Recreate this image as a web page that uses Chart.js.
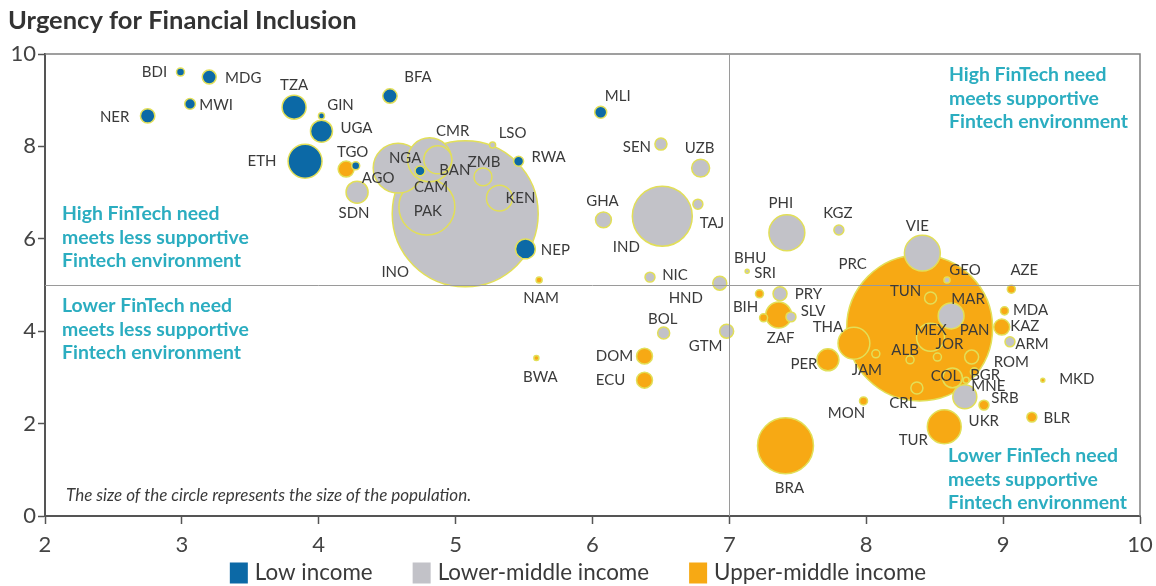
<!DOCTYPE html>
<html>
<head>
<meta charset="utf-8">
<script src="https://cdn.jsdelivr.net/npm/chart.js@4.4.1/dist/chart.umd.min.js"></script>
<style>
html,body{margin:0;padding:0;background:#ffffff;}
#wrap{width:1156px;height:586px;position:relative;}
</style>
</head>
<body>
<div id="wrap"><canvas id="c" width="1156" height="586"></canvas></div>
<script>
// ---------- DATA ----------
// x = FinTech environment score, y = FinTech need (urgency), pop = relative population size
const lowCodes = ['BDI','MDG','MWI','NER','TZA','GIN','UGA','ETH','BFA','TGO','CAM','RWA','MLI','NEP'];
const lowEnv   = [2.99,3.20,3.06,2.75,3.82,4.02,4.02,3.90,4.52,4.27,4.74,5.46,6.06,5.51];
const lowNeed  = [9.61,9.50,8.92,8.66,8.85,8.66,8.33,7.68,9.09,7.58,7.47,7.68,8.74,5.78];
const lowPop   = [2.8,8.5,5,9,25,1.6,21,50,9,2.8,4.3,4.3,6.3,17];

const lmCodes = ['INO','NGA','CMR','BAN','PAK','ZMB','KEN','LSO','SDN','SEN','UZB','TAJ','GHA','IND','NIC','HND','BOL','GTM','PHI','KGZ','VIE','GEO','SRI','SLV','MAR','ARM','UKR','BHU'];
const lmEnv   = [5.07,4.58,4.81,4.87,4.79,5.20,5.32,5.27,4.28,6.50,6.79,6.77,6.08,6.51,6.42,6.93,6.52,6.98,7.42,7.80,8.41,8.59,7.37,7.45,8.62,9.05,8.72,7.13];
const lmNeed  = [6.54,7.53,7.71,7.71,6.69,7.34,6.88,8.03,7.01,8.05,7.53,6.75,6.41,6.49,5.17,5.04,3.96,4.00,6.13,6.19,5.69,5.11,4.81,4.31,4.33,3.77,2.58,5.30];
const lmPop   = [925,108,84,34,136,14,29,1.6,21,6.3,14,4.3,11,156,4.3,8.5,6.3,8.5,56,4.3,56,1.6,8.5,4.3,29,4.3,25,0.7];

const umCodes = ['PRC','AGO','NAM','BWA','DOM','ECU','PRY','BIH','ZAF','THA','PER','JAM','MON','CRL','TUR','BRA','TUN','MEX','ALB','JOR','PAN','ROM','COL','BGR','MNE','SRB','MDA','KAZ','AZE','BLR','MKD'];
const umEnv   = [8.39,4.20,5.61,5.59,6.38,6.38,7.22,7.25,7.36,7.91,7.72,8.07,7.98,8.37,8.57,7.41,8.47,8.47,8.32,8.52,8.77,8.79,8.63,8.73,8.76,8.86,9.01,8.99,9.06,9.21,9.29];
const umNeed  = [4.07,7.51,5.11,3.42,3.46,2.94,4.81,4.29,4.35,3.74,3.38,3.51,2.49,2.77,1.93,1.52,4.72,3.87,3.38,3.44,3.44,3.12,2.99,2.94,2.73,2.40,4.44,4.09,4.91,2.14,2.94];
const umPop   = [925,11,1.6,1.1,11,11,2.8,2.8,29,44,21,2.8,2.8,6.3,50,136,6.3,34,2.8,2.8,8.5,2.8,17,1.6,1.6,4.3,2.8,11,2.8,4.3,0.7];

const groupLabels = ['Low income','Lower-middle income','Upper-middle income'];
const xTicks = [2,3,4,5,6,7,8,9,10];
const yTicks = [0,2,4,6,8,10];

// ---------- STYLE / LAYOUT ----------
const BLUE='#0c69a6', GRAY='#c2c2c8', ORANGE='#f7a914', RING='#e2df58', TEAL='#2badc0', TXT='#3a3a3a';
const RADIUS_SCALE = 2.4;

// label placement relative to the bubble centre (pixels)
const labelOffset = {
 BDI:[-26,0], MDG:[34,1], MWI:[26,1], NER:[-33,1], TZA:[0,-22], GIN:[19,-11], UGA:[35,-3], ETH:[-43,0],
 BFA:[28,-19], TGO:[-3,-14], CAM:[11,16], RWA:[30,-4], MLI:[17,-16], NEP:[30,1],
 INO:[-70,58], NGA:[7,-10], CMR:[23,-29], BAN:[17,10], PAK:[1,4], ZMB:[1,-15], KEN:[21,0], LSO:[20,-12],
 SDN:[-3,21], SEN:[-24,3], UZB:[-1,-20], TAJ:[14,19], GHA:[-1,-19], IND:[-36,31], NIC:[25,-2], HND:[-34,15],
 BOL:[-1,-14], GTM:[-21,15], PHI:[-6,-30], KGZ:[-1,-17], VIE:[-5,-27], GEO:[18,-10], SRI:[-15,-21], SLV:[22,-6],
 MAR:[17,-17], ARM:[22,2], UKR:[19,24], BHU:[3,-13],
 PRC:[-67,-64], AGO:[32,9], NAM:[2,18], BWA:[4,19], DOM:[-30,0], ECU:[-34,0], PRY:[49,0], BIH:[-18,-11],
 ZAF:[2,23], THA:[-26,-16], PER:[-24,4], JAM:[-9,16], MON:[-17,12], CRL:[-14,15], TUR:[-31,13], BRA:[4,42],
 TUN:[-25,-7], MEX:[0,-7], ALB:[-5,-10], JOR:[12,-13], PAN:[3,-27], ROM:[37,-10], COL:[-7,-2], BGR:[19,-5],
 MNE:[18,-4], SRB:[21,-7], MDA:[26,-1], KAZ:[23,-1], AZE:[13,-19], BLR:[25,1], MKD:[34,-1]
};

function buildPoints(codes, env, need, pop){
  return codes.map((c,i)=>({x:env[i], y:need[i], r:RADIUS_SCALE*Math.sqrt(pop[i]), code:c}))
              .sort((a,b)=>b.r-a.r);
}

const framePlugin = {
  id:'frame',
  afterDatasetsDraw(chart){
    const {ctx, chartArea:a, scales:{x,y}} = chart;
    ctx.save();
    ctx.strokeStyle='#808080'; ctx.lineWidth=1.5;
    ctx.beginPath(); ctx.moveTo(a.left,a.top); ctx.lineTo(a.right,a.top); ctx.lineTo(a.right,a.bottom); ctx.stroke();
    ctx.strokeStyle='#9a9a9a'; ctx.lineWidth=1;
    const px = Math.round(x.getPixelForValue(7))+0.5, py = Math.round(y.getPixelForValue(5))+0.5;
    ctx.beginPath(); ctx.moveTo(px,a.top); ctx.lineTo(px,a.bottom); ctx.moveTo(a.left,py); ctx.lineTo(a.right,py); ctx.stroke();
    ctx.restore();
  }
};

const labelPlugin = {
  id:'countryLabels',
  afterDatasetsDraw(chart){
    const ctx = chart.ctx; ctx.save();
    ctx.font='15px Lato'; ctx.fillStyle=TXT; ctx.textAlign='center'; ctx.textBaseline='middle';
    chart.data.datasets.forEach((ds,di)=>{
      chart.getDatasetMeta(di).data.forEach((el,i)=>{
        const code = ds.data[i].code; const o = labelOffset[code]||[0,0];
        ctx.fillText(code, el.x+o[0], el.y+o[1]);
      });
    });
    ctx.restore();
  }
};

const quadrantNotes = [
  {lines:['High FinTech need','meets less supportive','Fintech environment'], x:62, y:214},
  {lines:['Lower FinTech need','meets less supportive','Fintech environment'], x:62, y:306},
  {lines:['High FinTech need','meets supportive','Fintech environment'], x:949, y:75},
  {lines:['Lower FinTech need','meets supportive','Fintech environment'], x:948, y:456}
];

const annotPlugin = {
  id:'annotations',
  afterDraw(chart){
    const ctx = chart.ctx; ctx.save();
    ctx.textBaseline='middle'; ctx.textAlign='left';
    ctx.font='bold 19.4px Lato'; ctx.fillStyle=TEAL;
    quadrantNotes.forEach(q=>q.lines.forEach((l,i)=>ctx.fillText(l,q.x,q.y+i*23.3)));
    ctx.font='italic 17px Lato'; ctx.fillStyle=TXT;
    ctx.fillText('The size of the circle represents the size of the population.',66,496);
    // legend
    ctx.font='22.4px Lato';
    const items = chart.data.datasets.map(d=>({label:d.label,color:d.backgroundColor}));
    const boxW=18, boxH=21, gap=7, itemGap=40;
    const widths = items.map(it=>boxW+gap+ctx.measureText(it.label).width);
    const total = widths.reduce((s,w)=>s+w,0)+itemGap*(items.length-1);
    let cx = 578 - total/2; const cy = 573;
    items.forEach((it,i)=>{
      ctx.fillStyle=it.color; ctx.fillRect(cx,cy-boxH/2,boxW,boxH);
      ctx.fillStyle=TXT; ctx.fillText(it.label,cx+boxW+gap,cy);
      cx += widths[i]+itemGap;
    });
    ctx.restore();
  }
};

const colors = [BLUE, GRAY, ORANGE];
const pointSets = [
  buildPoints(lowCodes, lowEnv, lowNeed, lowPop),
  buildPoints(lmCodes, lmEnv, lmNeed, lmPop),
  buildPoints(umCodes, umEnv, umNeed, umPop)
];

new Chart(document.getElementById('c'), {
  type:'bubble',
  data:{
    datasets: pointSets.map((pts,i)=>({
      label: groupLabels[i], data: pts, backgroundColor: colors[i],
      borderColor: RING, borderWidth: 1.5, order: i+1
    }))
  },
  options:{
    responsive:false, animation:false, events:[],
    layout:{autoPadding:false, padding:{left:8,right:16,top:0,bottom:30}},
    plugins:{
      legend:{display:false}, tooltip:{enabled:false},
      title:{display:true, text:'Urgency for Financial Inclusion', align:'start', color:'#333333',
             font:{family:'Lato', size:25.5, weight:'bold'}, padding:{top:5,bottom:18.4}}
    },
    scales:{
      x:{type:'linear', min:xTicks[0], max:xTicks[xTicks.length-1],
         afterBuildTicks(s){ s.ticks = xTicks.map(v=>({value:v})); },
         ticks:{color:'#444', font:{family:'Lato', size:22}, padding:8},
         grid:{drawOnChartArea:false, drawTicks:true, tickLength:8, tickColor:'#555', tickWidth:1.5},
         border:{color:'#555', width:2},
         afterFit(s){ s.height = 40; s.paddingLeft = 0; s.paddingRight = 0; }},
      y:{type:'linear', min:yTicks[0], max:yTicks[yTicks.length-1],
         afterBuildTicks(s){ s.ticks = yTicks.map(v=>({value:v})); },
         ticks:{color:'#444', font:{family:'Lato', size:22}, padding:2},
         grid:{drawOnChartArea:false, drawTicks:true, tickLength:7, tickColor:'#555', tickWidth:1.5},
         border:{color:'#555', width:2},
         afterFit(s){ s.width = 37; }}
    }
  },
  plugins:[framePlugin, labelPlugin, annotPlugin]
});
</script>
</body>
</html>
